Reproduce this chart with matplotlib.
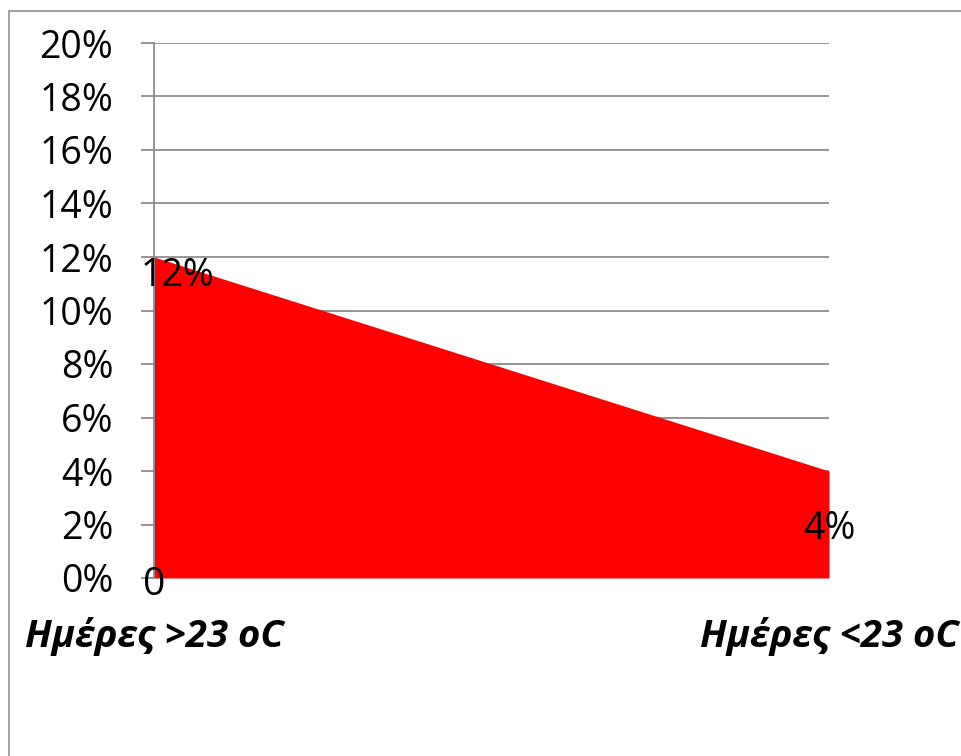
import matplotlib.pyplot as plt
from matplotlib.lines import Line2D
from matplotlib.ticker import FuncFormatter, MultipleLocator

categories = ["Ημέρες >23 oC", "Ημέρες <23 oC"]
share = [0.12, 0.04]
point_labels = ["12%", "4%"]
zero_label = "0"

plt.rcParams["font.family"] = ["Open Sans", "Noto Sans", "DejaVu Sans"]

W, H = 962, 756
fig = plt.figure(figsize=(W / 100, H / 100), dpi=100)
ax = fig.add_axes([154 / W, 1 - 578 / H, (829 - 154) / W, (578 - 43) / H])

x = list(range(len(categories)))
ax.fill_between(x, 0, share, color="#ff0000", linewidth=0, zorder=2)

ax.set_xlim(0, 1)
ax.set_ylim(0, 0.20)
ax.yaxis.set_major_locator(MultipleLocator(0.02))
ax.yaxis.set_major_formatter(FuncFormatter(lambda v, p: f"{v * 100:.0f}%"))
ax.grid(axis="y", color="#8c8c8c", linewidth=1.3, zorder=1)
ax.tick_params(axis="y", length=9.4, width=1.3, color="#8c8c8c",
               labelsize=27, pad=20)
ax.set_xticks(x)
ax.set_xticklabels(categories, fontsize=27.5, fontweight="bold", style="italic")
ax.tick_params(axis="x", length=0, pad=28)

for s in ["top", "right", "bottom"]:
    ax.spines[s].set_visible(False)
ax.spines["left"].set_color("#8c8c8c")
ax.spines["left"].set_linewidth(1.3)

# data labels
ax.annotate(point_labels[0], (x[0], share[0]), xytext=(17, -14),
            textcoords="offset points", ha="center", va="center", fontsize=27,
            zorder=3)
ax.annotate(point_labels[1], (x[1], share[1]), xytext=(0, -42),
            textcoords="offset points", ha="center", va="center", fontsize=27,
            zorder=3)
ax.annotate(zero_label, (x[0], 0), xytext=(0, -5),
            textcoords="offset points", ha="center", va="center", fontsize=28,
            zorder=3)

# outer chart border (top and left edges visible)
fig.add_artist(Line2D([9 / W, 1], [1 - 11 / H, 1 - 11 / H], color="#999999",
                      linewidth=1.3))
fig.add_artist(Line2D([9 / W, 9 / W], [0, 1 - 11 / H], color="#999999",
                      linewidth=1.3))

fig.savefig("out.png", dpi=100)
